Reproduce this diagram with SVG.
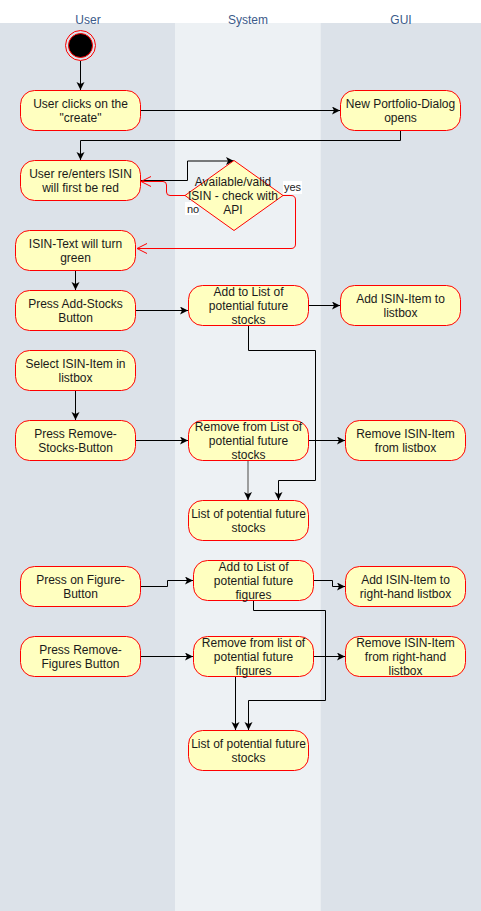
<svg xmlns="http://www.w3.org/2000/svg" width="481" height="911" viewBox="0 0 481 911">
<defs>
<style>
.lane-a{fill:#dce2e9}
.lane-b{fill:#edf1f4}
.lane-t{font-family:"Liberation Sans",Arial,sans-serif;font-size:12px;fill:#3b5a8a;text-anchor:middle}
.node rect,.node polygon{fill:#ffffc0;stroke:#ff0000;stroke-width:1}
.node text{font-family:"Liberation Sans",Arial,sans-serif;font-size:12px;fill:#1a1a1a;text-anchor:middle}
.edge{fill:none;stroke:#000;stroke-width:1}
.edge-g{fill:none;stroke:#808080;stroke-width:1.5}
.edge-r{fill:none;stroke:#ff0000;stroke-width:1}
.lbl{font-family:"Liberation Sans",Arial,sans-serif;font-size:11px;fill:#1a1a1a}
</style>
<marker id="ah" markerUnits="userSpaceOnUse" markerWidth="10" markerHeight="10" refX="8" refY="4" orient="auto">
<path d="M0,0 L8,4 L0,8 L2,4 z" fill="#000"/>
</marker>
<marker id="ao" markerUnits="userSpaceOnUse" markerWidth="12" markerHeight="12" refX="10" refY="5" orient="auto">
<path d="M0,0 L10,5 L0,10" fill="none" stroke="#ff0000" stroke-width="1"/>
</marker>
</defs>
<rect width="481" height="911" fill="#ffffff"/>
<g id="lanes">
<rect class="lane-a" x="0" y="23" width="175.5" height="888"/>
<rect class="lane-b" x="175.5" y="23" width="145" height="888"/>
<rect class="lane-a" x="320.5" y="23" width="160.5" height="888"/>
<text class="lane-t" x="88" y="24">User</text>
<text class="lane-t" x="248" y="24">System</text>
<text class="lane-t" x="401" y="24">GUI</text>
</g>
<g id="connectors">
<path class="edge" d="M80.5,61 V90" marker-end="url(#ah)"/>
<path class="edge" d="M140.5,110.5 H340" marker-end="url(#ah)"/>
<path class="edge" d="M400.5,130 V140.5 H80.5 V160" marker-end="url(#ah)"/>
<path class="edge" d="M140.5,180.5 H187.5 V161 H234" marker-end="url(#ah)"/>
<path class="edge-r" d="M185,195.5 H170 Q166.5,195.5 166.5,192 V185 Q166.5,181.5 163,181.5 H141" marker-end="url(#ao)"/>
<path class="edge-r" d="M283,195.5 H291 Q295.5,195.5 295.5,200 V244 Q295.5,248.5 291,248.5 H137" marker-end="url(#ao)"/>
<path class="edge" d="M75.5,270 V290" marker-end="url(#ah)"/>
<path class="edge" d="M135,310.5 H188" marker-end="url(#ah)"/>
<path class="edge" d="M308,305.5 H340" marker-end="url(#ah)"/>
<path class="edge" d="M248.5,325 V350.5 H315.5 V480.5 H278.5 V500" marker-end="url(#ah)"/>
<path class="edge" d="M75.5,390 V420" marker-end="url(#ah)"/>
<path class="edge" d="M135,440.5 H188" marker-end="url(#ah)"/>
<path class="edge" d="M308,440.5 H345" marker-end="url(#ah)"/>
<path class="edge-g" d="M248,460 V496"/>
<path class="edge" d="M248,494 V500" marker-end="url(#ah)"/>
<path class="edge" d="M140,586.5 H167.5 V580.5 H193" marker-end="url(#ah)"/>
<path class="edge" d="M313,580.5 H332.5 V586.5 H345" marker-end="url(#ah)"/>
<path class="edge" d="M253.5,600 V610.5 H325.5 V700.5 H248.5 V730" marker-end="url(#ah)"/>
<path class="edge" d="M140,656.5 H193" marker-end="url(#ah)"/>
<path class="edge" d="M313,656.5 H345" marker-end="url(#ah)"/>
<path class="edge" d="M235.5,676 V730" marker-end="url(#ah)"/>
<rect x="185" y="202" width="14" height="13" fill="#ffffff"/>
<text class="lbl" x="187" y="212.5">no</text>
<rect x="283" y="181" width="19" height="13" fill="#ffffff"/>
<text class="lbl" x="284" y="191">yes</text>
</g>
<g id="start">
<circle cx="80.5" cy="45.5" r="15" fill="none" stroke="#ff0000" stroke-width="1"/>
<circle cx="80.5" cy="45.5" r="12" fill="#000" stroke="#ff0000" stroke-width="1"/>
</g>
<g id="n-create" class="node">
<rect x="20.5" y="90.5" width="120" height="40" rx="14"/>
<text x="80.5" y="108">User clicks on the</text>
<text x="80.5" y="122">"create"</text>
</g>
<g id="n-dialog" class="node">
<rect x="340.5" y="90.5" width="120" height="40" rx="14"/>
<text x="400.5" y="108">New Portfolio-Dialog</text>
<text x="400.5" y="122">opens</text>
</g>
<g id="n-enter" class="node">
<rect x="20.5" y="160.5" width="120" height="40" rx="14"/>
<text x="80.5" y="178">User re/enters ISIN</text>
<text x="80.5" y="192">will first be red</text>
</g>
<g id="n-check" class="node">
<polygon points="234,160.5 283,195.5 234,230.5 185,195.5"/>
<text x="233" y="186">Available/valid</text>
<text x="233" y="200">ISIN - check with</text>
<text x="233" y="214">API</text>
</g>
<g id="n-green" class="node">
<rect x="15.5" y="230.5" width="120" height="40" rx="14"/>
<text x="75.5" y="248">ISIN-Text will turn</text>
<text x="75.5" y="262">green</text>
</g>
<g id="n-addstocks" class="node">
<rect x="15.5" y="290.5" width="120" height="40" rx="14"/>
<text x="75.5" y="308">Press Add-Stocks</text>
<text x="75.5" y="322">Button</text>
</g>
<g id="n-addlist" class="node">
<rect x="188.5" y="285.5" width="120" height="40" rx="14"/>
<text x="248.5" y="296">Add to List of</text>
<text x="248.5" y="310">potential future</text>
<text x="248.5" y="324">stocks</text>
</g>
<g id="n-additem" class="node">
<rect x="340.5" y="285.5" width="120" height="40" rx="14"/>
<text x="400.5" y="303">Add ISIN-Item to</text>
<text x="400.5" y="317">listbox</text>
</g>
<g id="n-select" class="node">
<rect x="15.5" y="350.5" width="120" height="40" rx="14"/>
<text x="75.5" y="368">Select ISIN-Item in</text>
<text x="75.5" y="382">listbox</text>
</g>
<g id="n-removestocks" class="node">
<rect x="15.5" y="420.5" width="120" height="40" rx="14"/>
<text x="75.5" y="438">Press Remove-</text>
<text x="75.5" y="452">Stocks-Button</text>
</g>
<g id="n-removelist" class="node">
<rect x="188.5" y="420.5" width="120" height="40" rx="14"/>
<text x="248.5" y="431">Remove from List of</text>
<text x="248.5" y="445">potential future</text>
<text x="248.5" y="459">stocks</text>
</g>
<g id="n-removeitem" class="node">
<rect x="345.5" y="420.5" width="120" height="40" rx="14"/>
<text x="405.5" y="438">Remove ISIN-Item</text>
<text x="405.5" y="452">from listbox</text>
</g>
<g id="n-liststocks" class="node">
<rect x="188.5" y="500.5" width="120" height="40" rx="14"/>
<text x="248.5" y="518">List of potential future</text>
<text x="248.5" y="532">stocks</text>
</g>
<g id="n-figure" class="node">
<rect x="20.5" y="566.5" width="120" height="40" rx="14"/>
<text x="80.5" y="584">Press on Figure-</text>
<text x="80.5" y="598">Button</text>
</g>
<g id="n-addfig" class="node">
<rect x="193.5" y="560.5" width="120" height="40" rx="14"/>
<text x="253.5" y="571">Add to List of</text>
<text x="253.5" y="585">potential future</text>
<text x="253.5" y="599">figures</text>
</g>
<g id="n-addright" class="node">
<rect x="345.5" y="566.5" width="120" height="40" rx="14"/>
<text x="405.5" y="584">Add ISIN-Item to</text>
<text x="405.5" y="598">right-hand listbox</text>
</g>
<g id="n-removefigs" class="node">
<rect x="20.5" y="636.5" width="120" height="40" rx="14"/>
<text x="80.5" y="654">Press Remove-</text>
<text x="80.5" y="668">Figures Button</text>
</g>
<g id="n-removefiglist" class="node">
<rect x="193.5" y="636.5" width="120" height="40" rx="14"/>
<text x="253.5" y="647">Remove from list of</text>
<text x="253.5" y="661">potential future</text>
<text x="253.5" y="675">figures</text>
</g>
<g id="n-removeright" class="node">
<rect x="345.5" y="636.5" width="120" height="40" rx="14"/>
<text x="405.5" y="647">Remove ISIN-Item</text>
<text x="405.5" y="661">from right-hand</text>
<text x="405.5" y="675">listbox</text>
</g>
<g id="n-listfinal" class="node">
<rect x="188.5" y="730.5" width="120" height="40" rx="14"/>
<text x="248.5" y="748">List of potential future</text>
<text x="248.5" y="762">stocks</text>
</g>
</svg>
